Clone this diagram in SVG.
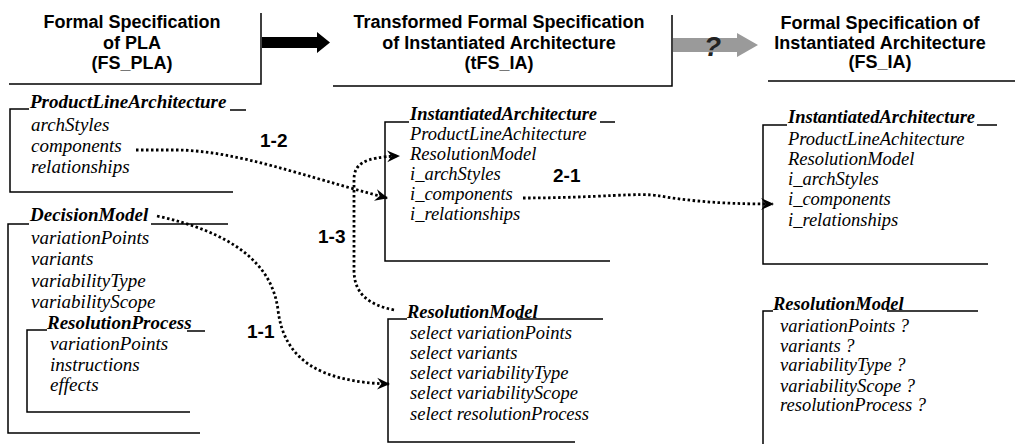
<svg xmlns="http://www.w3.org/2000/svg" width="1017" height="444" viewBox="0 0 1017 444">
<defs>
<marker id="ah" viewBox="0 0 12 12" refX="11" refY="6" markerWidth="13" markerHeight="13" markerUnits="userSpaceOnUse" orient="auto">
<path d="M0,0.5 L12,6 L0,11.5 L4,6 Z" fill="#000"/>
</marker>
</defs>
<style>
.hd{font-family:"Liberation Sans",Arial,sans-serif;font-weight:bold;font-size:18px;fill:#000;text-anchor:middle}
.tt{font-family:"Liberation Serif","Times New Roman",serif;font-style:italic;font-weight:bold;font-size:18.5px;fill:#000}
.it{font-family:"Liberation Serif","Times New Roman",serif;font-style:italic;font-size:18.5px;fill:#000}
.big{font-size:19px}
.ln{fill:none;stroke:#000;stroke-width:1.5}
.dot{fill:none;stroke:#000;stroke-width:2.8;stroke-dasharray:2.5 2.5}
.lb{font-family:"Liberation Sans",Arial,sans-serif;font-weight:bold;font-size:19px;fill:#000}
</style>
<rect width="1017" height="444" fill="#fff"/>

<g id="hdr-fs-pla">
<text class="hd" x="132" y="28">Formal Specification</text>
<text class="hd" x="132" y="49">of PLA</text>
<text class="hd" x="132" y="69">(FS_PLA)</text>
<path class="ln" d="M9,84 L261,84 L261,13" stroke-width="2"/>
</g>
<g id="arrow-black">
<polygon points="262,37 317,37 317,32 330,42.5 317,53 317,48 262,48" fill="#000"/>
</g>
<g id="hdr-tfs-ia">
<text class="hd" x="499" y="28">Transformed Formal Specification</text>
<text class="hd" x="499" y="49">of Instantiated Architecture</text>
<text class="hd" x="499" y="69">(tFS_IA)</text>
<path class="ln" d="M333,86 L672,86 L672,15" stroke-width="2"/>
</g>
<g id="arrow-gray">
<polygon points="673,38 737,38 737,33 758,45 737,57 737,52 673,52" fill="#9a9a9a"/>
<text x="704" y="56" font-family="Liberation Sans,Arial,sans-serif" font-weight="bold" font-style="italic" font-size="28" fill="#222">?</text>
</g>
<g id="hdr-fs-ia">
<text class="hd" x="880" y="29">Formal Specification of</text>
<text class="hd" x="880" y="49">Instantiated Architecture</text>
<text class="hd" x="880" y="68">(FS_IA)</text>
<path class="ln" d="M768,81 L1015,81" stroke-width="2"/>
</g>

<g id="pla">
<path class="ln" d="M29,109 L10,109 L10,192 L233,192 M230,110 L246,110"/>
<text class="tt big" x="30" y="108">ProductLineArchitecture</text>
<text class="it big" x="31" y="131">archStyles</text>
<text class="it big" x="31" y="152">components</text>
<text class="it big" x="31" y="173">relationships</text>
</g>

<g id="decision-model">
<path class="ln" d="M29,224 L8,224 L8,433 L200,433 M151,224 L228,224"/>
<text class="tt big" x="30" y="221">DecisionModel</text>
<text class="it big" x="31" y="244">variationPoints</text>
<text class="it big" x="31" y="265">variants</text>
<text class="it big" x="31" y="287">variabilityType</text>
<text class="it big" x="31" y="308">variabilityScope</text>
<g id="resolution-process">
<path class="ln" d="M47,330 L27,330 L27,412 L190,412 M187,331 L205,331"/>
<text class="tt big" x="47" y="329">ResolutionProcess</text>
<text class="it big" x="50" y="350">variationPoints</text>
<text class="it big" x="50" y="371">instructions</text>
<text class="it big" x="50" y="391">effects</text>
</g>
</g>

<g id="tfs-instantiated">
<path class="ln" d="M409,122 L385,122 L385,261 L610,261 M600,122 L615,122"/>
<text class="tt" x="410" y="120">InstantiatedArchitecture</text>
<text class="it" x="410" y="140">ProductLineAchitecture</text>
<text class="it" x="410" y="160">ResolutionModel</text>
<text class="it" x="410" y="180">i_archStyles</text>
<text class="it" x="410" y="200">i_components</text>
<text class="it" x="410" y="220">i_relationships</text>
</g>

<g id="tfs-resolution">
<path class="ln" d="M407,319 L388,319 L388,442 L575,442 M517,319 L603,319"/>
<text class="tt" x="407" y="318">ResolutionModel</text>
<text class="it" x="410" y="339">select variationPoints</text>
<text class="it" x="410" y="359">select variants</text>
<text class="it" x="410" y="379">select variabilityType</text>
<text class="it" x="410" y="399">select variabilityScope</text>
<text class="it" x="410" y="420">select resolutionProcess</text>
</g>

<g id="fs-instantiated">
<path class="ln" d="M787,125 L763,125 L763,264 L988,264 M977,125 L997,125"/>
<text class="tt" x="788" y="123">InstantiatedArchitecture</text>
<text class="it" x="788" y="145">ProductLineAchitecture</text>
<text class="it" x="788" y="165">ResolutionModel</text>
<text class="it" x="788" y="185">i_archStyles</text>
<text class="it" x="788" y="205">i_components</text>
<text class="it" x="788" y="226">i_relationships</text>
</g>

<g id="fs-resolution">
<path class="ln" d="M773,311 L763,311 L763,444 M887,311 L978,311"/>
<text class="tt" x="773" y="310">ResolutionModel</text>
<text class="it" x="780" y="332">variationPoints ?</text>
<text class="it" x="780" y="352">variants ?</text>
<text class="it" x="780" y="371">variabilityType ?</text>
<text class="it" x="780" y="392">variabilityScope ?</text>
<text class="it" x="780" y="411">resolutionProcess ?</text>
</g>

<g id="connectors">
<path class="dot" d="M136,150 L180,150 C 240,152 300,175 387,198" marker-end="url(#ah)"/>
<path class="dot" d="M394,310 C 370,305 354,295 354,270 L354,180 C 354,165 362,157 399,156" marker-end="url(#ah)"/>
<path class="dot" d="M157,216 C 230,232 272,262 278,310 C 284,360 320,382 389,384" marker-end="url(#ah)"/>
<path class="dot" d="M523,198 C 600,198 640,192 660,196 C 700,203 740,204 773,204" marker-end="url(#ah)"/>
<text class="lb" x="260" y="147">1-2</text>
<text class="lb" x="318" y="243">1-3</text>
<text class="lb" x="247" y="338">1-1</text>
<text class="lb" x="553" y="182">2-1</text>
</g>
</svg>
